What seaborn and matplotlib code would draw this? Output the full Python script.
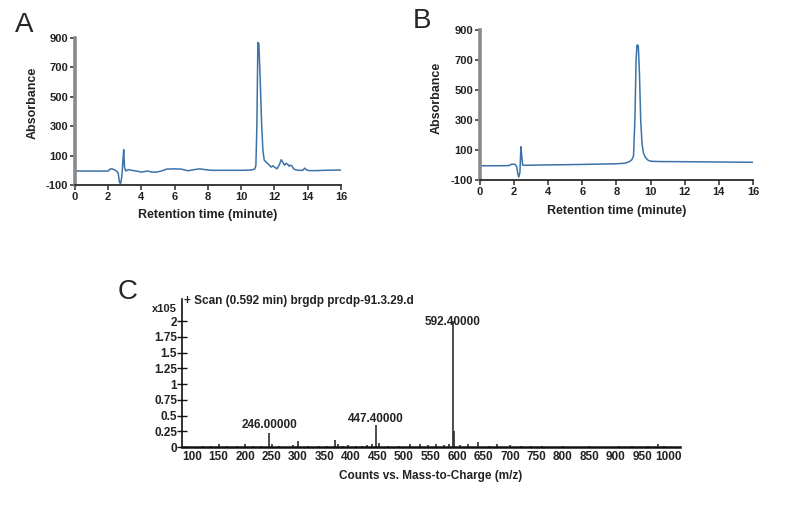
import numpy as np
import pandas as pd
import matplotlib
matplotlib.use('Agg')
import matplotlib.pyplot as plt
import seaborn as sns

sns.set_style('ticks')
plt.rcParams['font.family'] = ['Liberation Sans', 'DejaVu Sans']
plt.rcParams['axes.unicode_minus'] = False

# ------------------------------------------------------------
# data
# ------------------------------------------------------------
# panel A chromatogram (minutes, absorbance)
time_a = [0.0, 1.0, 2.0, 2.1, 2.2, 2.35, 2.5, 2.6, 2.68, 2.75, 2.82, 2.88, 2.93,
          2.98, 3.05, 3.2, 3.4, 3.7, 4.0, 4.2, 4.4, 4.6, 4.9, 5.2, 5.5, 6.0,
          6.4, 6.8, 7.2, 7.5, 7.8, 8.2, 9.0, 10.0, 10.6, 10.8, 10.88, 10.94,
          11.0, 11.06, 11.14, 11.22, 11.3, 11.38, 11.5, 11.65, 11.8, 11.9,
          12.0, 12.15, 12.3, 12.4, 12.5, 12.6, 12.7, 12.8, 12.88, 12.95,
          13.05, 13.15, 13.3, 13.5, 13.7, 13.82, 13.9, 14.05, 14.5, 15.0, 16.0]
abs_a = [-5, -5, -5, 8, 10, 5, -5, -20, -85, -88, -40, 60, 140,
         20, -5, 5, 0, -5, -12, -8, -5, -12, -12, -5, 8, 10,
         8, -3, 5, 10, 5, 0, 0, 0, 2, 8, 30, 300,
         870, 860, 620, 330, 140, 70, 55, 40, 22, 30,
         22, 10, 40, 72, 55, 35, 48, 40, 28, 35,
         30, 10, 2, 0, 0, 15, 5, -2, -2, 0, 2]

# panel B chromatogram
time_b = [0.0, 1.0, 1.7, 1.85, 2.05, 2.15, 2.22, 2.28, 2.34, 2.4, 2.45, 2.5,
          2.6, 3.5, 5.0, 6.5, 8.0, 8.5, 8.75, 8.9, 9.0, 9.08, 9.15, 9.2,
          9.28, 9.35, 9.42, 9.5, 9.58, 9.7, 9.85, 10.0, 10.5, 12.0, 14.0, 16.0]
abs_b = [-5, -5, -4, 5, 5, -10, -60, -80, -50, 122, 60, 0,
         -2, 0, 2, 5, 8, 12, 22, 35, 60, 300, 700, 800,
         795, 600, 300, 140, 80, 50, 32, 25, 23, 22, 20, 18]

# panel C mass spectrum (m/z, counts x1e5)
mz = [120, 135, 150, 165, 185, 200, 215, 230, 246, 250, 265, 290, 300, 318,
      340, 355, 370, 375, 385, 395, 410, 420, 430, 440, 447.4, 452, 470,
      490, 512, 530, 545, 560, 575, 585, 592.4, 595, 605, 620, 640, 660,
      675, 700, 720, 740, 760, 800, 850, 905, 930, 960, 980, 990]
counts = [0.01, 0.01, 0.04, 0.02, 0.02, 0.05, 0.01, 0.01, 0.22, 0.05, 0.02,
          0.03, 0.09, 0.02, 0.01, 0.02, 0.11, 0.04, 0.02, 0.03, 0.01, 0.02,
          0.03, 0.04, 0.35, 0.06, 0.02, 0.02, 0.05, 0.04, 0.03, 0.04, 0.03,
          0.05, 2.0, 0.25, 0.03, 0.04, 0.08, 0.02, 0.05, 0.03, 0.02, 0.01,
          0.02, 0.01, 0.01, 0.02, 0.01, 0.02, 0.05, 0.02]
label_mz = [246.0, 447.4, 592.4]
label_y = [0.35, 0.44, 1.98]

abs_ticks = [-100, 100, 300, 500, 700, 900]
time_ticks = [0, 2, 4, 6, 8, 10, 12, 14, 16]
c_yticks = [0, 0.25, 0.5, 0.75, 1, 1.25, 1.5, 1.75, 2]
c_yticklabels = ['0', '0.25', '0.5', '0.75', '1', '1.25', '1.5', '1.75', '2']
c_xticks = list(range(100, 1001, 50))

line_color = '#3b73a6'

fig = plt.figure(figsize=(7.91, 5.21), dpi=100)

ax_a = fig.add_axes([0.0948, 0.6449, 0.3363, 0.2821])
ax_b = fig.add_axes([0.6068, 0.6545, 0.3451, 0.2879])
ax_c = fig.add_axes([0.2301, 0.1420, 0.6296, 0.2841])


def style_chrom(ax, ylab_xy, xlab_y):
    ax.set_xlim(0, 16)
    ax.set_ylim(-100, 900)
    ax.set_xticks(time_ticks)
    ax.set_yticks(abs_ticks)
    for s in ['top', 'right']:
        ax.spines[s].set_visible(False)
    ax.spines['left'].set_color('#8a8a8a')
    ax.spines['left'].set_linewidth(2.6)
    ax.spines['bottom'].set_color('#2b2b2b')
    ax.spines['bottom'].set_linewidth(1.3)
    ax.tick_params(axis='both', length=3.5, width=1.1, color='#2b2b2b',
                   labelsize=8, pad=1.5)
    for lab in ax.get_xticklabels() + ax.get_yticklabels():
        lab.set_fontweight('bold')
        lab.set_color('#222222')
    ax.set_xlabel('Retention time (minute)', fontsize=9, fontweight='bold',
                  color='#222222')
    ax.set_ylabel('Absorbance', fontsize=9, fontweight='bold',
                  color='#222222')
    ax.yaxis.set_label_coords(*ylab_xy)
    ax.xaxis.set_label_coords(0.5, xlab_y)


df_a = pd.DataFrame({'time': time_a, 'abs': abs_a})
df_b = pd.DataFrame({'time': time_b, 'abs': abs_b})
sns.lineplot(data=df_a, x='time', y='abs', ax=ax_a, color=line_color,
             linewidth=1.1, estimator=None, sort=False)
sns.lineplot(data=df_b, x='time', y='abs', ax=ax_b, color=line_color,
             linewidth=1.1, estimator=None, sort=False)
style_chrom(ax_a, (-0.135, 0.56), -0.16)
style_chrom(ax_b, (-0.136, 0.55), -0.165)

# panel C spectrum
ax_c.vlines(mz, 0, counts, color='#2e2e2e', linewidth=1.2)
ax_c.set_xlim(81, 1021)
ax_c.set_ylim(0, 2.35)
ax_c.set_xticks(c_xticks)
ax_c.set_xticklabels([str(v) for v in c_xticks])
ax_c.set_yticks(c_yticks)
ax_c.set_yticklabels(c_yticklabels)
for s in ['top', 'right']:
    ax_c.spines[s].set_visible(False)
ax_c.spines['left'].set_color('#111111')
ax_c.spines['left'].set_linewidth(1.2)
ax_c.spines['bottom'].set_color('#111111')
ax_c.spines['bottom'].set_linewidth(1.8)
ax_c.tick_params(axis='y', direction='inout', length=7, width=1.0,
                 color='#111111', labelsize=8.5, pad=0)
ax_c.tick_params(axis='x', length=0, labelsize=8.5, pad=3)
for lab in ax_c.get_xticklabels() + ax_c.get_yticklabels():
    lab.set_fontweight('bold')
    lab.set_color('#222222')
ax_c.set_xlabel('Counts vs. Mass-to-Charge (m/z)', fontsize=8.5,
                fontweight='bold', color='#222222', labelpad=5)

for x, y in zip(label_mz, label_y):
    ax_c.text(x, y, f'{x:.5f}', ha='center', va='center', fontsize=8.5,
              fontweight='bold', color='#222222')

ax_c.text(0.005, 0.985, '+ Scan (0.592 min) brgdp prcdp-91.3.29.d',
          transform=ax_c.transAxes, ha='left', va='center', fontsize=8.5,
          fontweight='bold', color='#222222')
ax_c.text(-0.01, 0.93, 'x105', transform=ax_c.transAxes, ha='right',
          va='center', fontsize=8, fontweight='bold', color='#222222')

# panel letters
for letter, (px, py) in zip(['A', 'B', 'C'], [(15, 25), (413, 21), (118, 292)]):
    fig.text(px / 791, 1 - py / 521, letter, fontsize=20, ha='left',
             va='center')

fig.savefig('out.png', dpi=100)
